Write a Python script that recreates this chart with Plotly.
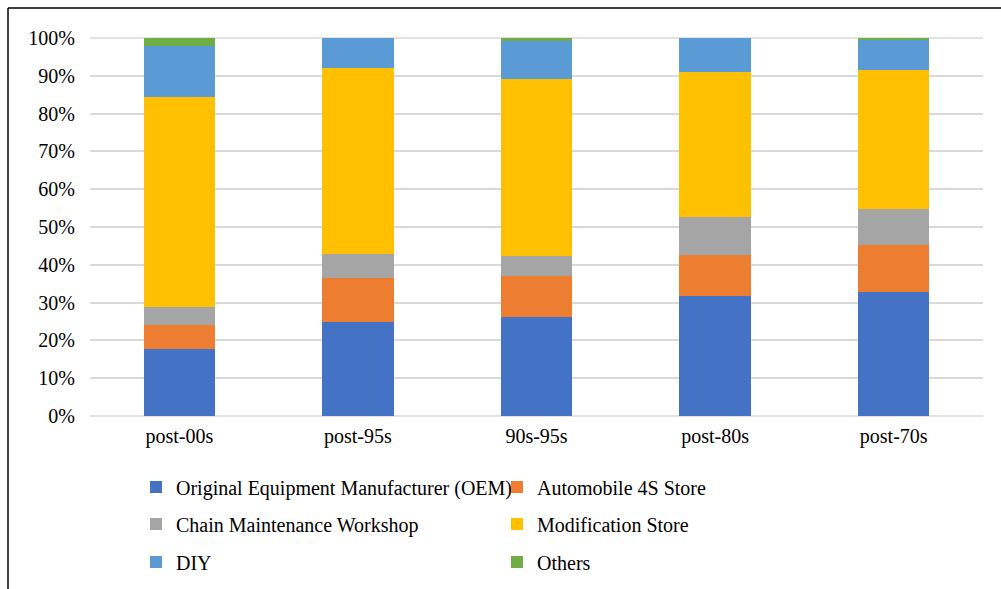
import plotly.graph_objects as go

categories = ["post-00s", "post-95s", "90s-95s", "post-80s", "post-70s"]
oem = [0.177, 0.250, 0.263, 0.318, 0.328]
store_4s = [0.065, 0.115, 0.108, 0.109, 0.124]
chain = [0.046, 0.063, 0.053, 0.099, 0.096]
modification = [0.557, 0.492, 0.468, 0.383, 0.368]
diy = [0.133, 0.080, 0.100, 0.091, 0.081]
others = [0.022, 0.000, 0.008, 0.000, 0.003]

series = [
    ("Original Equipment Manufacturer (OEM)", oem, "#4472C4", "legend"),
    ("Automobile 4S Store", store_4s, "#ED7D31", "legend"),
    ("Chain Maintenance Workshop", chain, "#A5A5A5", "legend2"),
    ("Modification Store", modification, "#FFC000", "legend2"),
    ("DIY", diy, "#5B9BD5", "legend3"),
    ("Others", others, "#70AD47", "legend3"),
]

W, H = 1001, 589
ML, MR, MT, MB = 90, 18, 38, 173
PW, PH = W - ML - MR, H - MT - MB

def px_x(p):
    return (p - ML) / PW

def px_y(p):
    return (H - MB - p) / PH

FONT = "Liberation Serif"

fig = go.Figure()
for name, vals, color, lg in series:
    fig.add_trace(go.Bar(
        x=categories, y=vals, name=name, legend=lg,
        marker=dict(color=color, line=dict(width=0)),
    ))

leg_common = dict(
    orientation="h", xanchor="left", yanchor="middle",
    xref="container", yref="container",
    font=dict(family=FONT, size=20, color="#000"),
    entrywidth=316, bgcolor="rgba(0,0,0,0)", borderwidth=0,
    traceorder="normal",
)
lx = 136 / W

fig.update_layout(
    width=W, height=H,
    margin=dict(l=ML, r=MR, t=MT, b=MB, autoexpand=False),
    paper_bgcolor="white", plot_bgcolor="white",
    barmode="stack", bargap=0.6,
    font=dict(family=FONT, size=20, color="#000"),
    showlegend=True,
    legend=dict(x=lx, y=1 - 487 / H, **leg_common),
    legend2=dict(x=lx, y=1 - 524 / H, **leg_common),
    legend3=dict(x=lx, y=1 - 562 / H, **leg_common),
    xaxis=dict(
        showgrid=False, ticks="", showline=False, zeroline=False,
        tickfont=dict(family=FONT, size=20, color="#000"),
        ticklabelstandoff=6,
    ),
    yaxis=dict(
        range=[0, 1], dtick=0.1, tickformat=".0%",
        showgrid=True, gridcolor="#D9D9D9", gridwidth=1.5,
        zeroline=False, showline=False, ticks="",
        tickfont=dict(family=FONT, size=20, color="#000"),
        ticklabelstandoff=14,
    ),
    shapes=[
        dict(type="line", xref="paper", yref="paper",
             x0=px_x(8), x1=px_x(W), y0=px_y(8), y1=px_y(8),
             line=dict(color="#000", width=1.5)),
        dict(type="line", xref="paper", yref="paper",
             x0=px_x(8), x1=px_x(8), y0=px_y(8), y1=px_y(H),
             line=dict(color="#000", width=1.5)),
        dict(type="line", xref="paper", yref="paper",
             x0=0, x1=1, y0=0, y1=0, layer="below",
             line=dict(color="#D9D9D9", width=1.5)),
        dict(type="line", xref="paper", yref="paper",
             x0=0, x1=1, y0=1, y1=1, layer="below",
             line=dict(color="#D9D9D9", width=1.5)),
    ],
)

fig.write_html("out.html")
